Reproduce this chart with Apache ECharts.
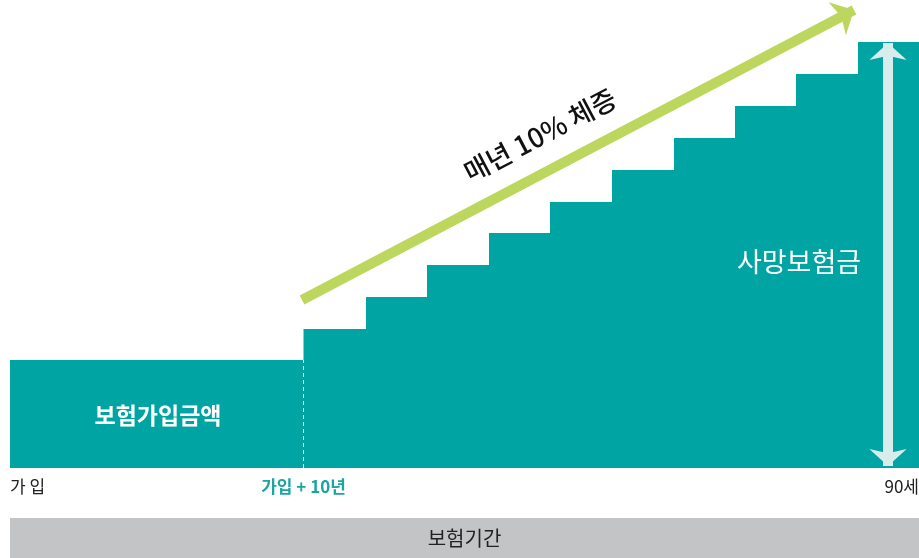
<!DOCTYPE html>
<html>
<head>
<meta charset="utf-8">
<script src="https://cdn.jsdelivr.net/npm/echarts@6/dist/echarts.min.js"></script>
<style>html,body{margin:0;padding:0;background:#fff;}#c{width:919px;height:558px;}</style>
</head>
<body>
<div id="c"></div>
<script>
// step boundaries (horizontal units) and insured amounts (vertical units)
const stepStart = [0, 293.5, 356, 417, 479, 540, 602, 664, 725, 786, 848];
const stepEnd   = [293.5, 356, 417, 479, 540, 602, 664, 725, 786, 848, 909];
const amounts   = [108, 139, 171, 203, 235, 266, 298, 330, 362, 394, 426];
const tickValues = [0, 293.5, 909];
const tickLabels = ['가 입', '가입 + 10년', '90세'];
const growthArrow = [[292, 168], [844, 458]];
const benefitArrow = [[878, 2], [878, 425]];

const FONT = '"Noto Sans CJK KR", "Noto Sans", sans-serif';
const TEAL = '#00a5a3';

const data = stepStart.map((s, i) => [s, stepEnd[i], amounts[i]]);

const chart = echarts.init(document.getElementById('c'));
chart.setOption({
  animation: false,
  textStyle: { fontFamily: FONT },
  grid: { left: 10, right: 0, top: 0, bottom: 90, containLabel: false, outerBoundsMode: 'none' },
  xAxis: {
    type: 'value', min: 0, max: 909,
    axisLine: { show: false }, axisTick: { show: false }, splitLine: { show: false },
    axisLabel: {
      customValues: tickValues,
      margin: 10,
      alignMinLabel: 'left',
      alignMaxLabel: 'right',
      fontFamily: FONT,
      fontSize: 17,
      color: '#222',
      formatter: function (v) {
        const i = tickValues.indexOf(v);
        if (i === 1) return '{t|' + tickLabels[i] + '}';
        return i >= 0 ? tickLabels[i] : '';
      },
      rich: { t: { color: '#1aa5a3', fontWeight: 'bold', fontSize: 17, fontFamily: FONT } }
    }
  },
  yAxis: { type: 'value', min: 0, max: 468, show: false },
  series: [{
    type: 'custom',
    data: data,
    renderItem: function (params, api) {
      const p0 = api.coord([api.value(0), api.value(2)]);
      const p1 = api.coord([api.value(1), 0]);
      return {
        type: 'rect',
        shape: { x: p0[0], y: p0[1], width: p1[0] - p0[0] + 0.6, height: p1[1] - p0[1] },
        style: { fill: TEAL }
      };
    },
    markLine: {
      silent: true,
      animation: false,
      label: { show: false },
      emphasis: { disabled: true },
      data: [
        [{ coord: [stepStart[1], 0], symbol: 'none', lineStyle: { color: '#fff', width: 1, type: [4, 3] } },
         { coord: [stepStart[1], amounts[0]], symbol: 'none' }],
        [{ coord: growthArrow[0], symbol: 'none', lineStyle: { color: '#bdd75e', width: 10, type: 'solid' } },
         { coord: growthArrow[1], symbol: 'arrow', symbolSize: [28, 19] }],
        [{ coord: benefitArrow[0], symbol: 'arrow', symbolSize: [28, 17], lineStyle: { color: '#d6edeb', width: 10, type: 'solid' } },
         { coord: benefitArrow[1], symbol: 'arrow', symbolSize: [28, 17] }]
      ]
    }
  }],
  graphic: [
    { type: 'rect', z: 100, shape: { x: 10, y: 518, width: 909, height: 40 }, style: { fill: '#c3c4c6' } },
    { type: 'text', z: 100, x: 464.5, y: 538, style: { text: '보험기간', fontFamily: FONT, fontSize: 20, fill: '#222', align: 'center', verticalAlign: 'middle' } },
    { type: 'text', z: 100, x: 158, y: 415, style: { text: '보험가입금액', fontFamily: FONT, fontSize: 23, fontWeight: 'bold', fill: '#fff', align: 'center', verticalAlign: 'middle' } },
    { type: 'text', z: 100, x: 799, y: 262, style: { text: '사망보험금', fontFamily: FONT, fontSize: 27, fill: '#fff', align: 'center', verticalAlign: 'middle' } },
    { type: 'text', z: 100, x: 540, y: 135, rotation: 0.4835, style: { text: '매년 10% 체증', fontFamily: FONT, fontSize: 27, fontWeight: 500, fill: '#111', align: 'center', verticalAlign: 'middle' } }
  ]
});
</script>
</body>
</html>
